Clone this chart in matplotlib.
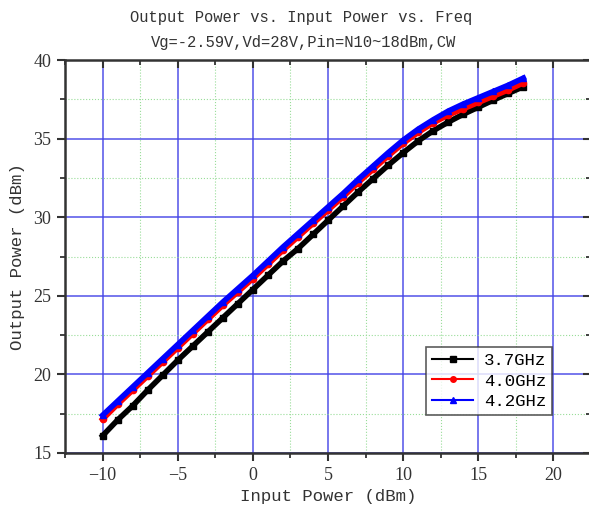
import matplotlib
matplotlib.use("Agg")
import matplotlib.pyplot as plt
from matplotlib.ticker import MultipleLocator

# ==========================================
# 資料
# ==========================================
pin = [-10, -9, -8, -7, -6, -5, -4, -3, -2, -1, 0, 1, 2, 3, 4,
       5, 6, 7, 8, 9, 10, 11, 12, 13, 14, 15, 16, 17, 18]
pout_37 = [16.1, 17.1, 18.0, 19.0, 19.95, 20.9, 21.8, 22.7, 23.6, 24.5, 25.4, 26.3, 27.2, 28.0, 28.9,
           29.8, 30.7, 31.6, 32.45, 33.3, 34.1, 34.85, 35.5, 36.05, 36.55, 37.0, 37.45, 37.88, 38.3]
pout_40 = [17.15, 18.1, 19.0, 19.9, 20.8, 21.7, 22.6, 23.5, 24.4, 25.25, 26.1, 27.0, 27.9, 28.75, 29.6,
           30.45, 31.3, 32.2, 33.05, 33.9, 34.7, 35.4, 36.0, 36.5, 36.9, 37.3, 37.7, 38.1, 38.55]
pout_42 = [17.4, 18.3, 19.2, 20.1, 21.0, 21.9, 22.8, 23.7, 24.6, 25.45, 26.3, 27.2, 28.1, 28.95, 29.8,
           30.65, 31.5, 32.4, 33.25, 34.1, 34.9, 35.6, 36.2, 36.75, 37.2, 37.6, 38.0, 38.4, 38.85]
labels = ["3.7GHz", "4.0GHz", "4.2GHz"]

MONO = ["Liberation Mono", "DejaVu Sans Mono"]
SERIF = ["Liberation Serif", "DejaVu Serif"]
TXT = "#333333"

fig = plt.figure(figsize=(5.89, 5.16), dpi=100)
ax = fig.add_axes([0.1104, 0.1221, 0.8930, 0.7616])

series = [(pout_37, "black", "s"), (pout_40, "red", "o"), (pout_42, "blue", "^")]
for (ys, c, m), lab in zip(series, labels):
    ax.plot(pin, ys, color=c, lw=4, marker=m, ms=4.5, label=lab, zorder=3)

ax.set_xlim(-12.5, 22.5)
ax.set_ylim(15, 40)
ax.xaxis.set_major_locator(MultipleLocator(5))
ax.xaxis.set_minor_locator(MultipleLocator(2.5))
ax.yaxis.set_major_locator(MultipleLocator(5))
ax.yaxis.set_minor_locator(MultipleLocator(2.5))

# 格線
ax.grid(which="major", color="#4444e6", lw=1.2, alpha=0.85)
ax.grid(which="minor", color="#99dd99", lw=0.8, ls=":")
ax.set_axisbelow(True)

for s in ax.spines.values():
    s.set_linewidth(1.8)
    s.set_color(TXT)

ax.tick_params(which="major", direction="out", length=6, width=1.5, color=TXT,
               labelsize=13, pad=4)
ax.tick_params(which="minor", direction="out", length=3.5, width=1.3, color=TXT)
ax.tick_params(which="both", top=True, right=True)
for t in ax.xaxis.get_ticklabels() + ax.yaxis.get_ticklabels():
    t.set_family(SERIF)
    t.set_color(TXT)
# 上、右側刻度朝內
for tick in ax.xaxis.get_major_ticks() + ax.xaxis.get_minor_ticks():
    tick.tick2line.set_marker(3)
for tick in ax.yaxis.get_major_ticks() + ax.yaxis.get_minor_ticks():
    tick.tick2line.set_marker(0)

ax.set_xlabel("Input Power (dBm)", family=MONO, fontsize=12.5, color=TXT, labelpad=4)
ax.set_ylabel("Output Power (dBm)", family=MONO, fontsize=12.5, color=TXT, labelpad=6)

fig.text(301 / 589, 1 - 17 / 516, "Output Power vs. Input Power vs. Freq", family=MONO,
         fontsize=11.2, color=TXT, ha="center", va="center")
fig.text(304 / 589, 1 - 43 / 516, "Vg=-2.59V,Vd=28V,Pin=N10~18dBm,CW", family=MONO,
         fontsize=11.2, color=TXT, ha="center", va="center")

leg = ax.legend(loc="lower left", bbox_to_anchor=((425 - 65) / 525, (453 - 415) / 393),
                prop={"family": MONO, "size": 12.5}, frameon=True, fancybox=False,
                handlelength=2.4, handletextpad=0.6, borderpad=0.35, labelspacing=0.3,
                borderaxespad=0)
leg.get_frame().set_edgecolor(TXT)
leg.get_frame().set_linewidth(1.2)
for h in leg.legend_handles:
    h.set_linewidth(1.5)
    h.set_markersize(4)

fig.savefig("out.png", dpi=100)
